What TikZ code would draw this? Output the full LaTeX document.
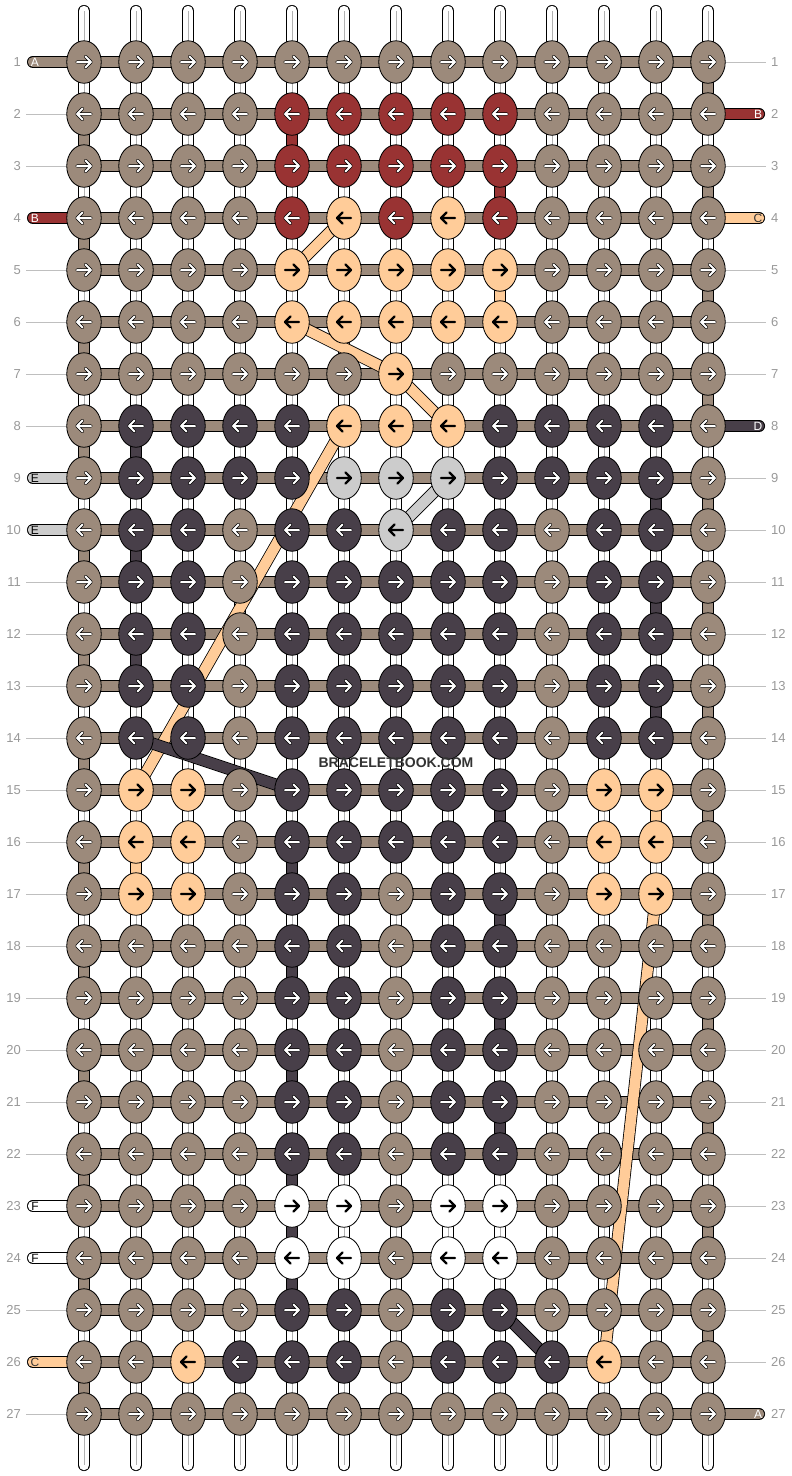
\documentclass[tikz,border=0pt]{standalone}
\usepackage{fontspec}
\setmainfont{Liberation Sans}
\usetikzlibrary{shapes.geometric}

\definecolor{tA}{HTML}{9C8A7B}
\definecolor{tB}{HTML}{993333}
\definecolor{tC}{HTML}{FFCC99}
\definecolor{tD}{HTML}{483F49}
\definecolor{tE}{HTML}{CCCCCC}
\definecolor{tF}{HTML}{FFFFFF}

\pgfdeclarelayer{paper}
\pgfdeclarelayer{strings}
\pgfdeclarelayer{threads}
\pgfsetlayers{paper,strings,threads,main}

\tikzset{
  knot/.style={ellipse, draw=black, line width=0.8pt, minimum width=34.5pt, minimum height=42.5pt, inner sep=0pt},
  warp/.style={draw=black, line width=0.8pt, double=white, double distance=10.5pt, line cap=round},
  strand/.style={draw=black, line width=0.8pt, double=#1, double distance=10.5pt},
  tail/.style={strand=#1, line cap=round},
  rowline/.style={draw=black!25, line width=0.8pt},
  rownum/.style={text=black!40, font=\fontsize{13}{13}\selectfont, inner sep=0pt},
  tailtext/.style={font=\fontsize{12}{12}\selectfont, inner sep=0pt},
  litearrow/.style={draw=black, line width=0.7pt, double=white, double distance=2pt, line cap=round, line join=round},
  darkarrow/.style={draw=black, line width=2.4pt, line cap=round, line join=round},
  arrA/.style={litearrow}, arrB/.style={litearrow}, arrD/.style={litearrow},
  arrC/.style={darkarrow}, arrE/.style={darkarrow}, arrF/.style={darkarrow},
  pics/goR/.style={code={\path[#1] (-7,0) -- (7,0) (1.5,-5.5) -- (7,0) -- (1.5,5.5);}},
  pics/goL/.style={code={\path[#1] (7,0) -- (-7,0) (-1.5,-5.5) -- (-7,0) -- (-1.5,5.5);}},
}

\begin{document}
\begin{tikzpicture}[x=1pt, y=-1pt]
\useasboundingbox (0,0) rectangle (792,1476);
\begin{pgfonlayer}{paper}
  \fill[white] (0,0) rectangle (792,1476);
\end{pgfonlayer}

% knots, one row per line
\foreach \row [count=\r] in {
  {A,A,A,A,A,A,A,A,A,A,A,A,A},
  {A,A,A,A,B,B,B,B,B,A,A,A,A},
  {A,A,A,A,B,B,B,B,B,A,A,A,A},
  {A,A,A,A,B,C,B,C,B,A,A,A,A},
  {A,A,A,A,C,C,C,C,C,A,A,A,A},
  {A,A,A,A,C,C,C,C,C,A,A,A,A},
  {A,A,A,A,A,A,C,A,A,A,A,A,A},
  {A,D,D,D,D,C,C,C,D,D,D,D,A},
  {A,D,D,D,D,E,E,E,D,D,D,D,A},
  {A,D,D,A,D,D,E,D,D,A,D,D,A},
  {A,D,D,A,D,D,D,D,D,A,D,D,A},
  {A,D,D,A,D,D,D,D,D,A,D,D,A},
  {A,D,D,A,D,D,D,D,D,A,D,D,A},
  {A,D,D,A,D,D,D,D,D,A,D,D,A},
  {A,C,C,A,D,D,D,D,D,A,C,C,A},
  {A,C,C,A,D,D,D,D,D,A,C,C,A},
  {A,C,C,A,D,D,A,D,D,A,C,C,A},
  {A,A,A,A,D,D,A,D,D,A,A,A,A},
  {A,A,A,A,D,D,A,D,D,A,A,A,A},
  {A,A,A,A,D,D,A,D,D,A,A,A,A},
  {A,A,A,A,D,D,A,D,D,A,A,A,A},
  {A,A,A,A,D,D,A,D,D,A,A,A,A},
  {A,A,A,A,F,F,A,F,F,A,A,A,A},
  {A,A,A,A,F,F,A,F,F,A,A,A,A},
  {A,A,A,A,D,D,A,D,D,A,A,A,A},
  {A,A,C,D,D,D,A,D,D,D,C,A,A},
  {A,A,A,A,A,A,A,A,A,A,A,A,A}}{
  \foreach \t [count=\c] in \row {
    \node[knot, fill=t\t] (k-\r-\c) at ({84+52*(\c-1)}, {62+52*(\r-1)}) {};
    \ifodd\r \pic at (k-\r-\c) {goR=arr\t}; \else \pic at (k-\r-\c) {goL=arr\t}; \fi
  }
  \node[rownum, anchor=east] (ln-\r) at (21, {62+52*(\r-1)}) {\r};
  \node[rownum, anchor=west] (rn-\r) at (771, {62+52*(\r-1)}) {\r};
  \coordinate (ll-\r) at (26, {62+52*(\r-1)});
  \coordinate (rl-\r) at (766, {62+52*(\r-1)});
  \coordinate (lt-\r) at (33, {62+52*(\r-1)});
  \coordinate (rt-\r) at (759, {62+52*(\r-1)});
}

\begin{pgfonlayer}{strings}
  % warp strings
  \foreach \c in {1,...,13} {
    \coordinate (top-\c) at ({84+52*(\c-1)}, 11);
    \coordinate (bot-\c) at ({84+52*(\c-1)}, 1465);
    \draw[warp] (top-\c) -- (bot-\c);
    \draw[black!30, line width=0.6pt] (top-\c) -- (bot-\c);
  }
  % plain row ends
  \foreach \r in {2,3,5,6,7,8,11,12,13,14,15,16,17,18,19,20,21,22,25,27}
    \draw[rowline] (ll-\r) -- (k-\r-1.center);
  \foreach \r in {1,3,5,6,7,9,10,11,12,13,14,15,16,17,18,19,20,21,22,23,24,25,26}
    \draw[rowline] (k-\r-13.center) -- (rl-\r);
  % loose ends
  \foreach \r/\t in {1/A, 4/B, 9/E, 10/E, 23/F, 24/F, 26/C}
    \draw[tail=t\t] (lt-\r) -- (k-\r-1.center);
  \foreach \r/\t in {2/B, 4/C, 8/D, 27/A}
    \draw[tail=t\t] (k-\r-13.center) -- (rt-\r);
\end{pgfonlayer}

\begin{pgfonlayer}{threads}
  % edge turns of the background thread
  \foreach \r in {2,4,...,26} {
    \pgfmathtruncatemacro\s{\r+1}
    \draw[strand=tA] (k-\r-1.center) -- (k-\s-1.center);
  }
  \foreach \r in {1,3,...,25} {
    \pgfmathtruncatemacro\s{\r+1}
    \draw[strand=tA] (k-\r-13.center) -- (k-\s-13.center);
  }
  % colour threads going down
  \foreach \r/\c/\t in {2/5/B, 3/9/B, 5/9/C, 8/2/D, 10/2/D, 12/2/D, 9/12/D, 11/12/D, 13/12/D,
      15/9/D, 17/9/D, 19/9/D, 21/9/D, 15/12/C, 16/2/C,
      16/5/D, 18/5/D, 20/5/D, 22/5/D, 23/5/D, 24/5/D} {
    \pgfmathtruncatemacro\s{\r+1}
    \draw[strand=t\t] (k-\r-\c.center) -- (k-\s-\c.center);
  }
  % rows
  \foreach \r in {1,...,27}
    \foreach \c [count=\d from 2] in {1,...,12}
      \draw[strand=tA] (k-\r-\c.center) -- (k-\r-\d.center);
  % threads jumping
  \draw[strand=tC] (k-4-6.center) -- (k-5-5.center);
  \draw[strand=tC] (k-6-5.center) -- (k-7-7.center);
  \draw[strand=tC] (k-7-7.center) -- (k-8-8.center);
  \draw[strand=tC] (k-8-6.center) -- (k-15-2.center);
  \draw[strand=tE] (k-9-8.center) -- (k-10-7.center);
  \draw[strand=tD] (k-14-2.center) -- (k-15-5.center);
  \draw[strand=tC] (k-17-12.center) -- (k-26-11.center);
  \draw[strand=tD] (k-25-9.center) -- (k-26-10.center);
\end{pgfonlayer}

% letters on the loose ends
\foreach \r/\t/\f in {1/A/white, 4/B/white, 9/E/black, 10/E/black, 23/F/black, 24/F/black, 26/C/black!80}
  \node[tailtext, text=\f] (la-\r) at (35, {62+52*(\r-1)}) {\t};
\foreach \r/\t/\f in {2/B/white, 4/C/black!80, 8/D/white, 27/A/white}
  \node[tailtext, text=\f] (ra-\r) at (758, {62+52*(\r-1)}) {\t};

\node[font=\bfseries\fontsize{14}{14}\selectfont, text=black!80] (mark) at (396,763) {BRACELETBOOK.COM};
\end{tikzpicture}
\end{document}
